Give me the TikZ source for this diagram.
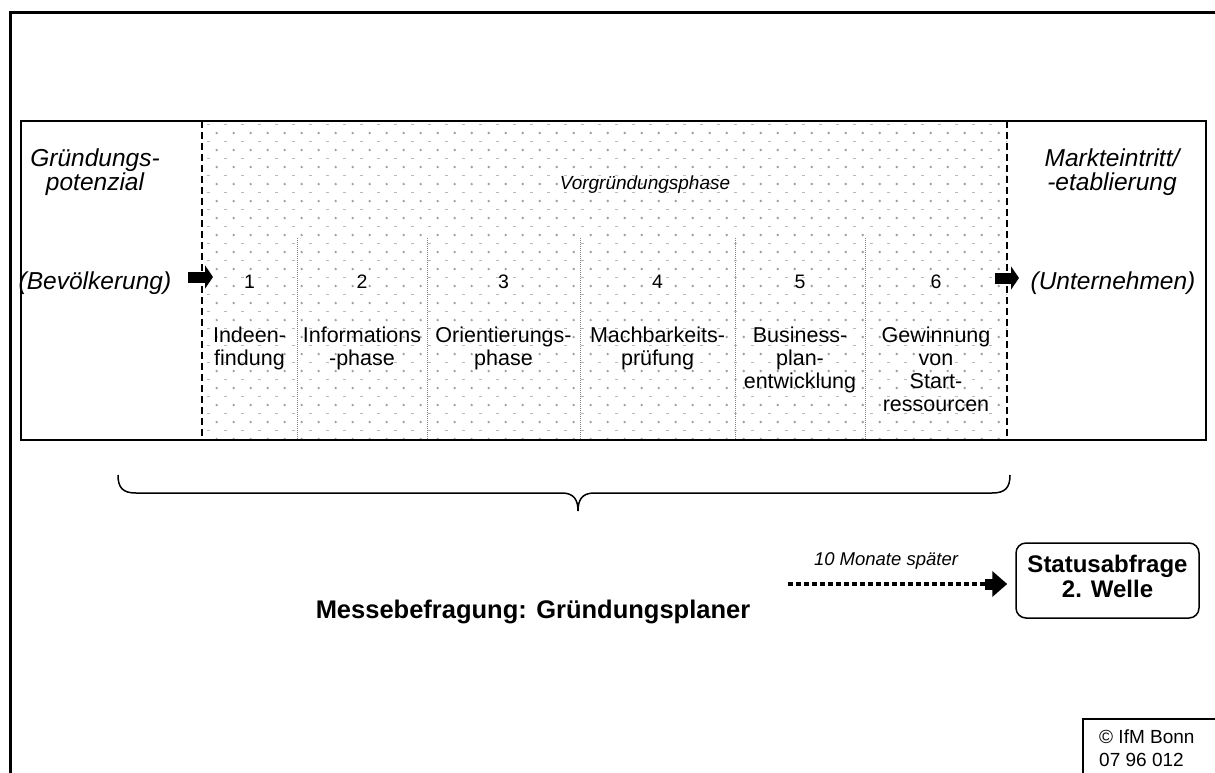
\documentclass[tikz,border=0pt]{standalone}
\usepackage{fontspec}
\setmainfont{Liberation Sans}
\usetikzlibrary{arrows.meta}
\begin{document}
\begin{tikzpicture}[x=1pt,y=-1pt,
  lbl/.style={font=\fontsize{21.5}{23}\selectfont, align=center, inner sep=0pt, anchor=base},
  side/.style={font=\fontsize{24.5}{24}\selectfont\itshape, align=center, inner sep=0pt, anchor=base},
  num/.style={font=\fontsize{19.5}{20}\selectfont, inner sep=0pt, anchor=base},
  blockarrow/.style={line width=11pt, -{Triangle[length=8pt,width=23pt]}},
  divider/.style={gray, line width=0.8pt, dash pattern=on 1pt off 1pt},
  phaseedge/.style={line width=1.5pt, dash pattern=on 7pt off 4pt},
  sqdots/.style={line width=4.5pt, dash pattern=on 4.5pt off 3.5pt},
  dotc/.style={fill=gray!75},
  dashc/.style={fill=gray!55},
]
\useasboundingbox (0,0) rectangle (1215,772);
\fill[white] (0,0) rectangle (1215,772);

% outer thick frame
\draw[line width=3.3pt] (10.7,790) -- (10.7,12.5) -- (1230,12.5);

% dotted phase area
\begin{scope}
\clip (202,121) rectangle (1007,440);
\foreach \i in {0,...,47} {
  \foreach \j in {0,...,19} {
    \fill[dotc] (216.7+17*\i, 133+17*\j) circle (1.3pt);
    \fill[dashc] (206.5+17*\i, 124+17*\j) rectangle ++(3,1);
  }
}
\end{scope}

% column dividers
\foreach \x in {297,427,580,735,865} {
  \draw[divider] (\x,238) -- (\x,440);
}

% phase edges and inner frame
\draw[phaseedge] (202,121) -- (202,440);
\draw[phaseedge] (1007,121) -- (1007,440);
\draw[line width=1.7pt] (21,121) rectangle (1206,440);

% side labels
\node[side] (gp) at (95,190) {Gründungs-\\potenzial};
\node[side] (bev) at (95,289) {(Bevölkerung)};
\node[side, font=\fontsize{19}{24}\selectfont\itshape] (vg) at (645,189) {Vorgründungsphase};
\node[side] (me) at (1112,190) {Markteintritt/\\-etablierung};
\node[side] (unt) at (1113,289) {(Unternehmen)};

% arrows in/out
\coordinate (la1) at (188,277);
\coordinate (la2) at (213,277);
\draw[blockarrow] (la1) -- (la2);
\coordinate (ra1) at (995,278);
\coordinate (ra2) at (1019,278);
\draw[blockarrow] (ra1) -- (ra2);

% numbers
\node[num] (n1) at (249.5,288) {1};
\node[num] (n2) at (362,288) {2};
\node[num] (n3) at (503.5,288) {3};
\node[num] (n4) at (657.5,288) {4};
\node[num] (n5) at (800,288) {5};
\node[num] (n6) at (936,288) {6};

% step labels (base = last line)
\node[lbl] (s1) at (249.5,365) {Indeen-\\findung};
\node[lbl] (s2) at (362,365) {Informations\\-phase};
\node[lbl] (s3) at (503.5,365) {Orientierungs-\\phase};
\node[lbl] (s4) at (657.5,365) {Machbarkeits-\\prüfung};
\node[lbl] (s5) at (800,388) {Business-\\plan-\\entwicklung};
\node[lbl] (s6) at (936,411) {Gewinnung\\von\\Start-\\ressourcen};

% brace
\draw[line width=1.5pt] (118,475) .. controls (118,488) and (123,493) .. (136,493)
  -- (562,493) .. controls (574,493) and (578,500) .. (578,511)
  .. controls (578,500) and (582,493) .. (594,493)
  -- (992,493) .. controls (1005,493) and (1010,488) .. (1010,475);

% survey label
\node[font=\fontsize{25.5}{26}\selectfont\bfseries, anchor=base, inner sep=0pt] (mb) at (533,618) {Messebefragung: Gründungsplaner};

% status box
\node[draw, line width=1.5pt, rounded corners=10pt, minimum width=183pt, minimum height=75pt, inner sep=0pt] (st) at (1107.5,580.5) {};
\node[font=\fontsize{24}{25}\selectfont\bfseries, align=center, anchor=base, inner sep=0pt] (stt) at (1107.5,597) {Statusabfrage\\2. Welle};

% dotted arrow
\coordinate (d1) at (788,584);
\coordinate (d2) at (985,584);
\draw[sqdots] (d1) -- (d2);
\draw[line width=11pt, -{Triangle[length=15pt,width=25pt]}, shorten >=8pt] (d2) -- (d2 -| st.west);
\node[font=\fontsize{18.5}{20}\selectfont\itshape, anchor=base, inner sep=0pt] (mon) at (886,565) {10 Monate später};

% copyright box
\node[draw, line width=1.5pt, anchor=north west, minimum width=150pt, minimum height=70pt] (crb) at (1082,718) {};
\node[font=\fontsize{19}{23}\selectfont, align=left, anchor=base west, inner sep=0pt] (cr) at (1099,766) {© IfM Bonn\\07 96 012};
\end{tikzpicture}
\end{document}
